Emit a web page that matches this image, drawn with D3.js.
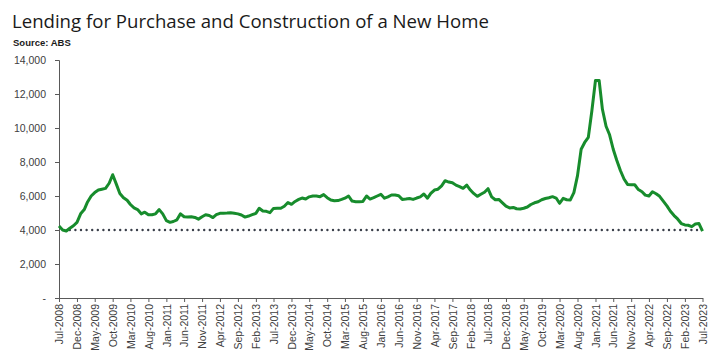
<!DOCTYPE html>
<html>
<head>
<meta charset="utf-8">
<script src="https://cdn.jsdelivr.net/npm/d3@7"></script>
<style>
  body { margin: 0; background: #fff; }
  svg text { font-family: "Liberation Sans", Arial, sans-serif; }
</style>
</head>
<body>
<div id="chart"></div>
<script>
// monthly lending, Jul-2008 .. Jul-2023
const startMonth = new Date(2008, 6, 1);
const lending = [
  4230, 4000, 3940, 4100, 4250, 4450, 4950, 5200, 5650, 6000, 6200, 6350,
  6400, 6450, 6750, 7250, 6700, 6150, 5900, 5750, 5500, 5300, 5200, 4950,
  5050, 4900, 4900, 4950, 5200, 4950, 4550, 4450, 4500, 4600, 4950, 4780,
  4760, 4780, 4740, 4640, 4780, 4900, 4850, 4730, 4900, 4980, 4990, 5000,
  5020, 4990, 4950, 4880, 4760, 4820, 4900, 4980, 5280, 5120, 5100, 5020,
  5270, 5280, 5280, 5400, 5620, 5510, 5680, 5800, 5880, 5820, 5950, 6000,
  6000, 5960, 6080, 5900, 5760, 5725, 5730, 5800, 5870, 6000, 5700, 5665,
  5665, 5680, 6000, 5820, 5900, 6000, 6100, 5870, 5950, 6060, 6060, 6020,
  5800, 5820, 5850, 5800, 5880, 5950, 6120, 5870, 6150, 6350, 6400, 6600,
  6900, 6820, 6780, 6640, 6550, 6450, 6640, 6350, 6150, 5980, 6100, 6220,
  6430, 5950, 5780, 5800, 5600, 5400, 5300, 5330, 5250, 5235, 5280, 5350,
  5500, 5600, 5660, 5780, 5850, 5900, 5960, 5880, 5570, 5860, 5780, 5770,
  6200, 7200, 8750, 9150, 9450, 11000, 12800, 12800, 11100, 10100, 9600, 8750,
  8100, 7500, 7000, 6680, 6660, 6660, 6380, 6250, 6050, 6000, 6250, 6130,
  5980, 5700, 5420, 5100, 4850, 4650, 4380, 4300, 4280, 4200, 4350, 4380,
  3930
];
const refLevel = 4000;
const refStart = 3; // month index where the dotted level begins
const yTicks = [0, 2000, 4000, 6000, 8000, 10000, 12000, 14000];
const tickLabels = [
  "Jul-2008", "Dec-2008", "May-2009", "Oct-2009", "Mar-2010", "Aug-2010",
  "Jan-2011", "Jun-2011", "Nov-2011", "Apr-2012", "Sep-2012", "Feb-2013",
  "Jul-2013", "Dec-2013", "May-2014", "Oct-2014", "Mar-2015", "Aug-2015",
  "Jan-2016", "Jun-2016", "Nov-2016", "Apr-2017", "Sep-2017", "Feb-2018",
  "Jul-2018", "Dec-2018", "May-2019", "Oct-2019", "Mar-2020", "Aug-2020",
  "Jan-2021", "Jun-2021", "Nov-2021", "Apr-2022", "Sep-2022", "Feb-2023",
  "Jul-2023"
];

const w = 716, h = 362;
const padL = 59, padR = 702.5, padT = 60, padB = 298;

const data = lending.map((v, i) => ({ date: d3.timeMonth.offset(startMonth, i), value: v }));
const parseTick = d3.timeParse("%b-%Y");
const fmtTick = d3.timeFormat("%b-%Y");

const x = d3.scaleTime()
  .domain([data[0].date, data[data.length - 1].date])
  .range([padL, padR]);
const y = d3.scaleLinear()
  .domain([0, 14000])
  .range([padB, padT]);

const svg = d3.select("#chart").append("svg")
  .attr("width", w)
  .attr("height", h);

svg.append("text")
  .attr("x", 12)
  .attr("y", 28)
  .attr("font-size", 18.6)
  .attr("fill", "#1a1a1a")
  .style("font-family", "'Open Sans', sans-serif")
  .text("Lending for Purchase and Construction of a New Home");

svg.append("text")
  .attr("x", 13)
  .attr("y", 46)
  .attr("font-size", 9.5)
  .attr("font-weight", "bold")
  .attr("fill", "#1a1a1a")
  .text("Source: ABS");

// y axis
const yAxis = d3.axisLeft(y)
  .tickValues(yTicks)
  .tickSize(4)
  .tickPadding(9)
  .tickFormat(d => d === 0 ? "-" : d3.format(",")(d));
const gy = svg.append("g")
  .attr("transform", "translate(" + padL + ",0)")
  .call(yAxis);
gy.select(".domain").attr("stroke", "#595959");
gy.selectAll(".tick line").attr("stroke", "#595959");
gy.selectAll(".tick text").attr("font-size", 10.5).attr("fill", "#404040")
  .style("font-family", "'Liberation Sans', Arial, sans-serif");

// x axis
const xAxis = d3.axisBottom(x)
  .tickValues(tickLabels.map(parseTick))
  .tickSize(4)
  .tickSizeOuter(0)
  .tickFormat(fmtTick);
const gx = svg.append("g")
  .attr("transform", "translate(0," + padB + ")")
  .call(xAxis);
gx.select(".domain").attr("stroke", "#595959");
gx.selectAll(".tick line").attr("stroke", "#595959");
gx.selectAll(".tick text")
  .attr("font-size", 10.5)
  .attr("fill", "#404040")
  .style("font-family", "'Liberation Sans', Arial, sans-serif")
  .attr("text-anchor", "end")
  .attr("transform", "rotate(-90)")
  .attr("x", -6)
  .attr("y", 0)
  .attr("dy", "0.35em");

// dotted reference level
svg.append("line")
  .attr("x1", x(data[refStart].date))
  .attr("x2", x(data[data.length - 1].date))
  .attr("y1", y(refLevel))
  .attr("y2", y(refLevel))
  .attr("stroke", "#3a3f4a")
  .attr("stroke-width", 2.4)
  .attr("stroke-linecap", "round")
  .attr("stroke-dasharray", "0 5.6");

// series line
const line = d3.line()
  .x(d => x(d.date))
  .y(d => y(d.value));
svg.append("path")
  .datum(data)
  .attr("fill", "none")
  .attr("stroke", "#178c2c")
  .attr("stroke-width", 3)
  .attr("stroke-linejoin", "round")
  .attr("d", line);
</script>
</body>
</html>
